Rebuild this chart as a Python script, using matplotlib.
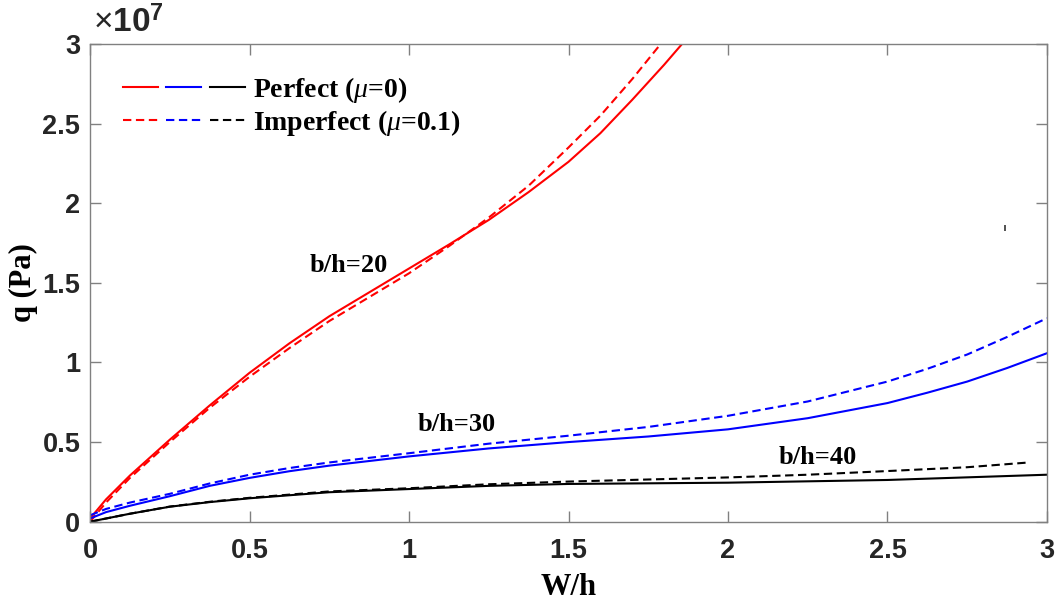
import matplotlib
matplotlib.use('Agg')
import matplotlib.pyplot as plt
from matplotlib.legend_handler import HandlerTuple

# values, q in units of 1e7 Pa
w_20_perf = [0, 0.05, 0.125, 0.25, 0.375, 0.5, 0.625, 0.75, 0.875, 1.0, 1.125, 1.25, 1.375, 1.5, 1.6, 1.7, 1.8, 1.856]
q_20_perf = [0.02, 0.14, 0.29, 0.515, 0.73, 0.935, 1.12, 1.29, 1.44, 1.59, 1.74, 1.895, 2.07, 2.26, 2.44, 2.65, 2.87, 3.0]
w_20_imp = [0, 0.05, 0.125, 0.25, 0.375, 0.5, 0.625, 0.75, 0.875, 1.0, 1.125, 1.25, 1.375, 1.5, 1.6, 1.7, 1.789]
q_20_imp = [0.0, 0.12, 0.275, 0.50, 0.715, 0.91, 1.09, 1.26, 1.41, 1.56, 1.73, 1.91, 2.11, 2.35, 2.55, 2.78, 3.0]

w_30 = [0, 0.05, 0.125, 0.25, 0.375, 0.5, 0.625, 0.75, 1.0, 1.25, 1.5, 1.75, 2.0, 2.25, 2.5, 2.625, 2.75, 2.875, 3.0]
q_30_perf = [0.02, 0.06, 0.10, 0.16, 0.225, 0.275, 0.317, 0.352, 0.41, 0.46, 0.50, 0.535, 0.58, 0.65, 0.745, 0.81, 0.88, 0.965, 1.058]
q_30_imp = [0.04, 0.08, 0.12, 0.175, 0.24, 0.295, 0.337, 0.372, 0.43, 0.49, 0.54, 0.595, 0.665, 0.755, 0.88, 0.96, 1.05, 1.16, 1.278]

w_40_perf = [0, 0.125, 0.25, 0.375, 0.5, 0.75, 1.0, 1.25, 1.5, 2.0, 2.5, 3.0]
q_40_perf = [0.0, 0.05, 0.094, 0.123, 0.147, 0.185, 0.205, 0.225, 0.237, 0.245, 0.262, 0.295]
w_40_imp = [0, 0.125, 0.25, 0.375, 0.5, 0.75, 1.0, 1.25, 1.5, 1.75, 2.0, 2.25, 2.5, 2.75, 2.937]
q_40_imp = [0.0, 0.05, 0.095, 0.125, 0.15, 0.19, 0.21, 0.235, 0.252, 0.265, 0.278, 0.295, 0.318, 0.342, 0.371]

# stray mark in the original figure
stray_w = [2.87]
stray_q = [1.845]

curve_labels = ['b/h=20', 'b/h=30', 'b/h=40']
label_pos = [(0.81, 1.61), (1.15, 0.61), (2.28, 0.40)]

xticks = [0, 0.5, 1, 1.5, 2, 2.5, 3]
yticks = [0, 0.5, 1, 1.5, 2, 2.5, 3]

plt.rcParams['mathtext.fontset'] = 'custom'
plt.rcParams['mathtext.rm'] = 'Liberation Sans'
plt.rcParams['mathtext.bf'] = 'Liberation Sans:bold'
plt.rcParams['mathtext.it'] = 'Liberation Serif:italic'

fig = plt.figure(figsize=(10.57, 6.05), dpi=100)
ax = fig.add_axes([0.0852, 0.1377, 0.9053, 0.7896])

lw = 1.5
dash = (4, 2.2)
r1, = ax.plot(w_20_perf, q_20_perf, color='red', lw=lw)
r2, = ax.plot(w_20_imp, q_20_imp, color='red', lw=lw, dashes=dash)
b1, = ax.plot(w_30, q_30_perf, color='blue', lw=lw)
b2, = ax.plot(w_30, q_30_imp, color='blue', lw=lw, dashes=dash)
k1, = ax.plot(w_40_perf, q_40_perf, color='black', lw=lw)
k2, = ax.plot(w_40_imp, q_40_imp, color='black', lw=lw, dashes=dash)
ax.plot(stray_w, stray_q, marker='|', color='#333333', ms=5, mew=1.2, ls='none')

for txt, (x, y) in zip(curve_labels, label_pos):
    ax.text(x, y, txt, family='Liberation Serif', fontweight='bold', fontsize=19,
            ha='center', va='center')

ax.set_xlim(0, 3)
ax.set_ylim(0, 3)
ax.set_xticks(xticks)
ax.set_yticks(yticks)
ax.set_xticklabels([f'{t:g}' for t in xticks])
ax.set_yticklabels([f'{t:g}' for t in yticks])

axis_gray = '#808080'
for s in ax.spines.values():
    s.set_color(axis_gray)
    s.set_linewidth(1.0)
ax.tick_params(direction='in', length=8, width=1.0, color=axis_gray,
               top=True, right=True, labelcolor='#262626', labelsize=19.5)
ax.tick_params(axis='x', pad=12)
ax.tick_params(axis='y', pad=7)
for lab in ax.get_xticklabels() + ax.get_yticklabels():
    lab.set_family('Liberation Sans')
    lab.set_fontweight('bold')

ax.set_xlabel('W/h', family='Liberation Serif', fontweight='bold', fontsize=22, labelpad=6)
ax.set_ylabel('q (Pa)', family='Liberation Serif', fontweight='bold', fontsize=22, labelpad=3)

ax.text(0.003, 1.01, r'$\times\mathbf{10}^{\mathbf{7}}$', transform=ax.transAxes,
        fontsize=24, color='#262626', ha='left', va='bottom')

leg = ax.legend([(r1, b1, k1), (r2, b2, k2)],
                ['Perfect ($\\mu$=0)', 'Imperfect ($\\mu$=0.1)'],
                handler_map={tuple: HandlerTuple(ndivide=None, pad=0.3)},
                loc='upper left', bbox_to_anchor=(0.034, 0.935), frameon=False,
                borderpad=0, borderaxespad=0, handlelength=4.4, handletextpad=0.3,
                labelspacing=0.1,
                prop={'family': 'Liberation Serif', 'weight': 'bold', 'size': 20})

fig.savefig('out.png', dpi=100)
